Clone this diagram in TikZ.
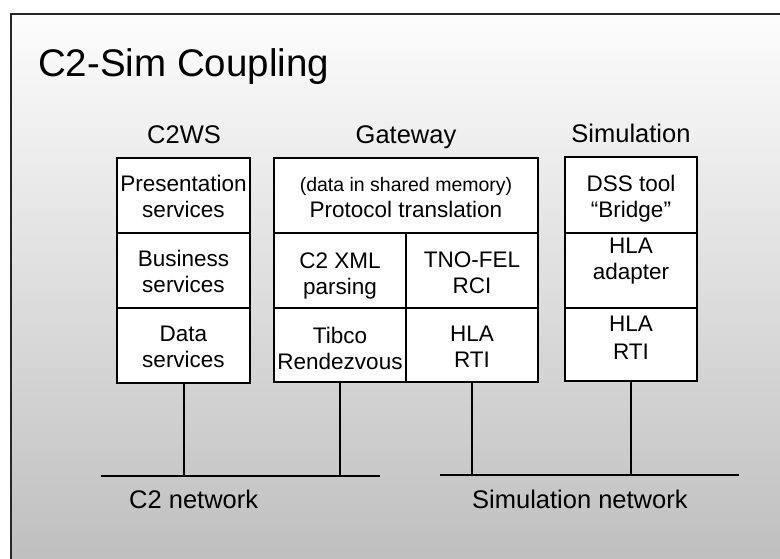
\documentclass[tikz,border=0pt]{standalone}
\usepackage{fontspec}
\setmainfont{Liberation Sans}
\begin{document}
\begin{tikzpicture}[x=1pt,y=-1pt,
  cell/.style={draw=black, line width=2.5pt, fill=white, inner sep=0pt},
  ctext/.style={inner sep=0pt, align=center, font=\fontsize{22.5}{26}\selectfont, text=black},
  hdr/.style={font=\fontsize{25.5}{30}\selectfont, anchor=base, inner sep=0pt},
  netlabel/.style={font=\fontsize{25.5}{30}\selectfont, anchor=base west, inner sep=0pt},
  link/.style={line width=2pt},
  net/.style={line width=2.5pt}]
\useasboundingbox (0,0) rectangle (780,559);
\fill[white] (0,0) rectangle (780,559);
\shade[top color=black!1, bottom color=black!25] (11,14) rectangle (780,559);
\draw[line width=1.5pt, black!85] (11,559) -- (11,14) -- (780,14);

\node[anchor=base west, inner sep=0pt, font=\fontsize{38.5}{44}\selectfont] (title) at (38,77) {C2-Sim Coupling};

% headers
\node[hdr] (h1) at (184,144) {C2WS};
\node[hdr] (h2) at (406,144) {Gateway};
\node[hdr] (h3) at (631,143) {Simulation};

% C2WS
\node[cell, minimum width=133, minimum height=75] (pres) at (183.5,195.5) {};
\node[cell, minimum width=133, minimum height=75] (bus) at (183.5,270.5) {};
\node[cell, minimum width=133, minimum height=75] (data) at (183.5,345.5) {};
\node[ctext] (pres-t) at ([yshift=-1]pres.center) {Presentation\\services};
\node[ctext] (bus-t) at ([yshift=-1]bus.center) {Business\\services};
\node[ctext] (data-t) at ([yshift=-1]data.center) {Data\\services};

% Gateway
\node[cell, minimum width=264, minimum height=75] (proto) at (406,195.5) {};
\node[cell, minimum width=132, minimum height=75] (xml) at (340,270.5) {};
\node[cell, minimum width=132, minimum height=74] (tibco) at (340,345) {};
\node[cell, minimum width=132, minimum height=75] (rci) at (472,270.5) {};
\node[cell, minimum width=132, minimum height=74] (grti) at (472,345) {};
\node[ctext] (proto-t) at ([yshift=-2]proto.center)
  {{\fontsize{19.5}{22}\selectfont (data in shared memory)}\\Protocol translation};
\node[ctext] (xml-t) at ([yshift=-5]xml.center) {C2 XML\\parsing};
\node[ctext] (tibco-t) at ([yshift=-3]tibco.center) {Tibco\\Rendezvous};
\node[ctext] (rci-t) at ([yshift=-2]rci.center) {TNO-FEL\\RCI};
\node[ctext] (grti-t) at ([yshift=-2]grti.center) {HLA\\RTI};

% Simulation
\node[cell, minimum width=132, minimum height=76] (dss) at (631,195) {};
\node[cell, minimum width=132, minimum height=75] (adapt) at (631,270.5) {};
\node[cell, minimum width=132, minimum height=73] (srti) at (631,344.5) {};
\node[ctext] (dss-t) at ([yshift=-4]dss.center) {DSS tool\\“Bridge”};
\node[ctext] (adapt-t) at ([yshift=9]adapt.center) {HLA\\adapter};
\node[ctext, font=\fontsize{22.5}{28}\selectfont] (srti-t) at ([yshift=7]srti.center) {HLA\\RTI};

% networks
\coordinate (c2l) at (101,476);
\coordinate (c2r) at (380,476);
\coordinate (siml) at (440,475);
\coordinate (simr) at (739,475);
\draw[net] (c2l) -- (c2r);
\draw[net] (siml) -- (simr);
\draw[link] (data.south) -- (data.south |- c2l);
\draw[link] (tibco.south) -- (tibco.south |- c2l);
\draw[link] (grti.south) -- (grti.south |- siml);
\draw[link] (srti.south) -- (srti.south |- siml);

\node[netlabel] (c2net) at (129,508) {C2 network};
\node[netlabel] (simnet) at (472,508) {Simulation network};
\end{tikzpicture}
\end{document}
